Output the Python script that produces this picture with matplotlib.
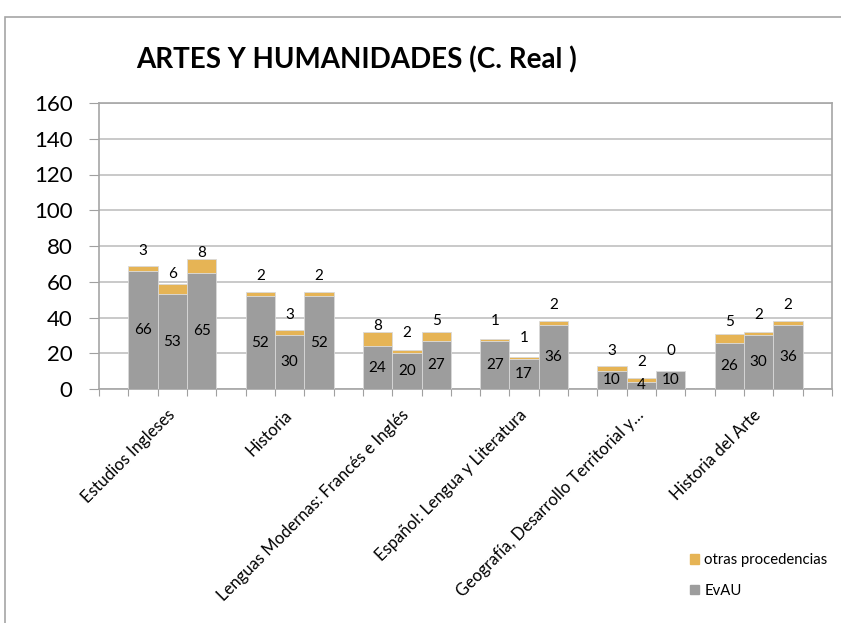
import matplotlib.pyplot as plt
from matplotlib.patches import Rectangle, Patch
import numpy as np

plt.rcParams['font.family'] = ['Lato', 'DejaVu Sans']

# datos
categorias = ["Estudios Ingleses", "Historia", "Lenguas Modernas: Francés e Inglés",
              "Español: Lengua y Literatura", "Geografía, Desarrollo Territorial y…",
              "Historia del Arte"]
evau = [[66, 53, 65], [52, 30, 52], [24, 20, 27], [27, 17, 36], [10, 4, 10], [26, 30, 36]]
otras = [[3, 6, 8], [2, 3, 2], [8, 2, 5], [1, 1, 2], [3, 2, 0], [5, 2, 2]]
yticks = [0, 20, 40, 60, 80, 100, 120, 140, 160]

c_evau = '#9d9d9d'
c_otras = '#e6b455'

fig = plt.figure(figsize=(8.41, 6.23), dpi=100)
ax = fig.add_axes([99/841, 1-389/623, 733/841, 286/623])

# marco exterior del grafico
fig.patches.append(Rectangle((5/841, -0.1), 1.2, 1-17/623+0.1, transform=fig.transFigure,
                             fill=False, edgecolor='#a6a6a6', lw=1.2))

ev = np.array(evau)
ot = np.array(otras)
n_grupos = len(categorias)
for g in range(n_grupos):
    xs = 4*g + 1.5 + np.arange(3)
    ax.bar(xs, ev[g], width=1, color=c_evau, edgecolor='#d9d9d9', lw=0.6, zorder=3)
    ax.bar(xs, ot[g], width=1, bottom=ev[g], color=c_otras, edgecolor='#d9d9d9', lw=0.6, zorder=3)
    for x, a, b in zip(xs, ev[g], ot[g]):
        ax.text(x, a/2, str(a), ha='center', va='center', fontsize=11, zorder=4)
        ax.annotate(str(b), (x, a), xytext=(0, 14.5), textcoords='offset points',
                    ha='center', va='center', fontsize=11, zorder=4)

ax.set_xlim(0, 4*n_grupos + 1)
ax.set_ylim(0, 160)
ax.set_yticks(yticks)
ax.tick_params(axis='y', labelsize=16, length=7, color='#a0a0a0', pad=12)
ax.yaxis.grid(True, color='#c0c0c0', lw=1.2, zorder=0)

# marcas en x en cada hueco, etiquetas en la barra central
ax.set_xticks(np.arange(4*n_grupos + 2))
ax.tick_params(axis='x', which='major', labelbottom=False, length=5, color='#a0a0a0')
ax.set_xticks([4*g + 2.3 for g in range(n_grupos)], minor=True)
ax.set_xticklabels(categorias, minor=True, rotation=45, ha='right', va='top',
                   rotation_mode='anchor', fontsize=12)
ax.tick_params(axis='x', which='minor', length=0, pad=13)

for s in ax.spines.values():
    s.set_color('#a6a6a6')
    s.set_linewidth(1.2)

fig.text(357/841, 1-60/623, 'ARTES Y HUMANIDADES (C. Real )', ha='center', va='center',
         fontsize=20, fontweight='bold')

handles = [Patch(color=c_otras, label='otras procedencias'), Patch(color=c_evau, label='EvAU')]
fig.legend(handles=handles, loc='upper left', bbox_to_anchor=(677/841, 1-540/623),
           frameon=False, fontsize=10.7, handlelength=0.6, handleheight=0.6,
           handletextpad=0.35, labelspacing=1.1)

plt.savefig('out.png', dpi=100)
